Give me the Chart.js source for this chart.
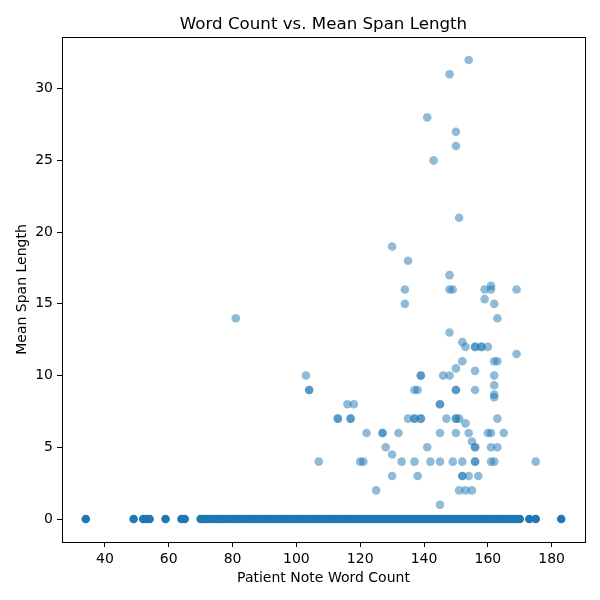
<!DOCTYPE html>
<html>
<head>
<meta charset="utf-8">
<script src="https://cdn.jsdelivr.net/npm/chart.js"></script>
<style>
    html, body { margin: 0; padding: 0; background: #ffffff; }
    #wrap { width: 600px; height: 600px; }
</style>
</head>
<body>
<div id="wrap"><canvas id="span-chart"></canvas></div>
<script>
// notes that had at least one span (word count, mean span length)
const spanWordCounts = [
    154, 148, 141, 150, 150, 143, 151,
    130, 135, 148, 134, 148, 149, 159, 161, 161, 169,
    134, 159, 162, 163, 81,
    148, 152, 153, 156, 156, 158, 158, 160,
    169, 152, 162, 163, 150, 156,
    103, 139, 139, 146, 148, 162,
    162, 162, 162,
    104, 104, 137, 138, 150, 150, 156,
    116, 118, 145, 145,
    113, 113, 117, 117, 135, 137, 137, 139, 139, 147, 150, 150, 151, 163,
    153,
    122, 127, 127, 132, 145, 150, 154, 160, 161, 165,
    155, 128, 141, 156, 156, 161, 163,
    130,
    107, 120, 121, 133, 137, 142, 145, 149, 152, 156, 156, 161, 162, 175,
    130, 138, 152, 152, 154, 157,
    125, 151, 153, 155,
    145
];
const spanMeans = [
    32, 31, 28, 27, 26, 25, 21,
    19, 18, 17, 16, 16, 16, 16, 16.25, 16, 16,
    15, 15.33, 15, 14, 14,
    13, 12.33, 12, 12, 12, 12, 12, 12,
    11.5, 11, 11, 11, 10.5, 10.33,
    10, 10, 10, 10, 10, 10,
    9.33, 8.67, 8.5,
    9, 9, 9, 9, 9, 9, 9,
    8, 8, 8, 8,
    7, 7, 7, 7, 7, 7, 7, 7, 7, 7, 7, 7, 7, 7,
    6.67,
    6, 6, 6, 6, 6, 6, 6, 6, 6, 6,
    5.4, 5, 5, 5, 5, 5, 5,
    4.5,
    4, 4, 4, 4, 4, 4, 4, 4, 4, 4, 4, 4, 4, 4,
    3, 3, 3, 3, 3, 3,
    2, 2, 2, 2,
    1
];
// word counts of notes with mean span length 0 (many stacked per value)
const zeroWordCounts = [
    34, 49, 52, 53, 54, 59, 64, 65,
    70, 71, 72, 73, 74, 75, 76, 77, 78, 79, 80, 81, 82, 83, 84,
    85, 86, 87, 88, 89, 90, 91, 92, 93, 94, 95, 96, 97, 98, 99,
    100, 101, 102, 103, 104, 105, 106, 107, 108, 109, 110, 111, 112, 113, 114,
    115, 116, 117, 118, 119, 120, 121, 122, 123, 124, 125, 126, 127, 128, 129,
    130, 131, 132, 133, 134, 135, 136, 137, 138, 139, 140, 141, 142, 143, 144,
    145, 146, 147, 148, 149, 150, 151, 152, 153, 154, 155, 156, 157, 158, 159,
    160, 161, 162, 163, 164, 165, 166, 167, 168, 169, 170,
    173, 175, 183
];
const xTickValues = [40, 60, 80, 100, 120, 140, 160, 180];
const yTickValues = [0, 5, 10, 15, 20, 25, 30];
const chartTitle = "Word Count vs. Mean Span Length";

const FONT = "'DejaVu Sans', sans-serif";
const BLUE = "rgba(31, 119, 180, 0.5)";
const BLUE_SOLID = "rgba(31, 119, 180, 1)";

// matplotlib style box around the plot area, title centred over it
const frame = {
    id: "frame",
    afterDraw(chart) {
        const { ctx, chartArea: a } = chart;
        ctx.save();
        ctx.strokeStyle = "#000000";
        ctx.lineWidth = 1;
        ctx.strokeRect(Math.round(a.left) + 0.5, Math.round(a.top) + 0.5,
            Math.round(a.right - a.left), Math.round(a.bottom - a.top));
        ctx.fillStyle = "#000000";
        ctx.font = "16.67px " + FONT;
        ctx.textAlign = "center";
        ctx.textBaseline = "alphabetic";
        ctx.fillText(chartTitle, (a.left + a.right) / 2, a.top - 8.5);
        ctx.restore();
    },
};

function axisOpts(ticks, title, size, pad) {
    return {
        type: "linear",
        afterBuildTicks: (axis) => {
            axis.ticks = ticks.map((v) => ({ value: v }));
        },
        afterFit: (axis) => {
            if (axis.isHorizontal()) axis.height = size;
            else axis.width = size;
        },
        grid: {
            drawOnChartArea: false,
            drawTicks: true,
            tickLength: 5,
            color: "#000000",
        },
        border: { display: false },
        ticks: {
            color: "#000000",
            padding: 4,
            maxRotation: 0,
            autoSkip: false,
            font: { family: FONT, size: 14 },
        },
        title: {
            display: true,
            text: title,
            color: "#000000",
            font: { family: FONT, size: 14 },
            padding: pad,
        },
    };
}

const xMin = Math.min(...spanWordCounts, ...zeroWordCounts);
const xMax = Math.max(...spanWordCounts, ...zeroWordCounts);
const yMax = Math.max(...spanMeans);
const xPad = (xMax - xMin) * 0.05;
const yPad = yMax * 0.05;

const xScale = axisOpts(xTickValues, "Patient Note Word Count", 58, { top: 0, bottom: 13 });
xScale.min = xMin - xPad;
xScale.max = xMax + xPad;
const yScale = axisOpts(yTickValues, "Mean Span Length", 62, { top: 14, bottom: 0 });
yScale.min = -yPad;
yScale.max = yMax + yPad;

new Chart(document.getElementById("span-chart"), {
    type: "scatter",
    data: {
        datasets: [
            {
                label: "zero",
                data: zeroWordCounts.map((x) => ({ x: x, y: 0 })),
                backgroundColor: BLUE_SOLID,
                borderWidth: 0,
                pointRadius: 4.3,
            },
            {
                label: "spans",
                data: spanWordCounts.map((x, i) => ({ x: x, y: spanMeans[i] })),
                backgroundColor: BLUE,
                borderWidth: 0,
                pointRadius: 4.3,
            },
        ],
    },
    options: {
        responsive: true,
        maintainAspectRatio: false,
        animation: false,
        layout: { padding: { left: 0, right: 15, top: 37, bottom: 0 } },
        plugins: {
            legend: { display: false },
            tooltip: { enabled: false },
            title: { display: false },
        },
        scales: { x: xScale, y: yScale },
    },
    plugins: [frame],
});
</script>
</body>
</html>
